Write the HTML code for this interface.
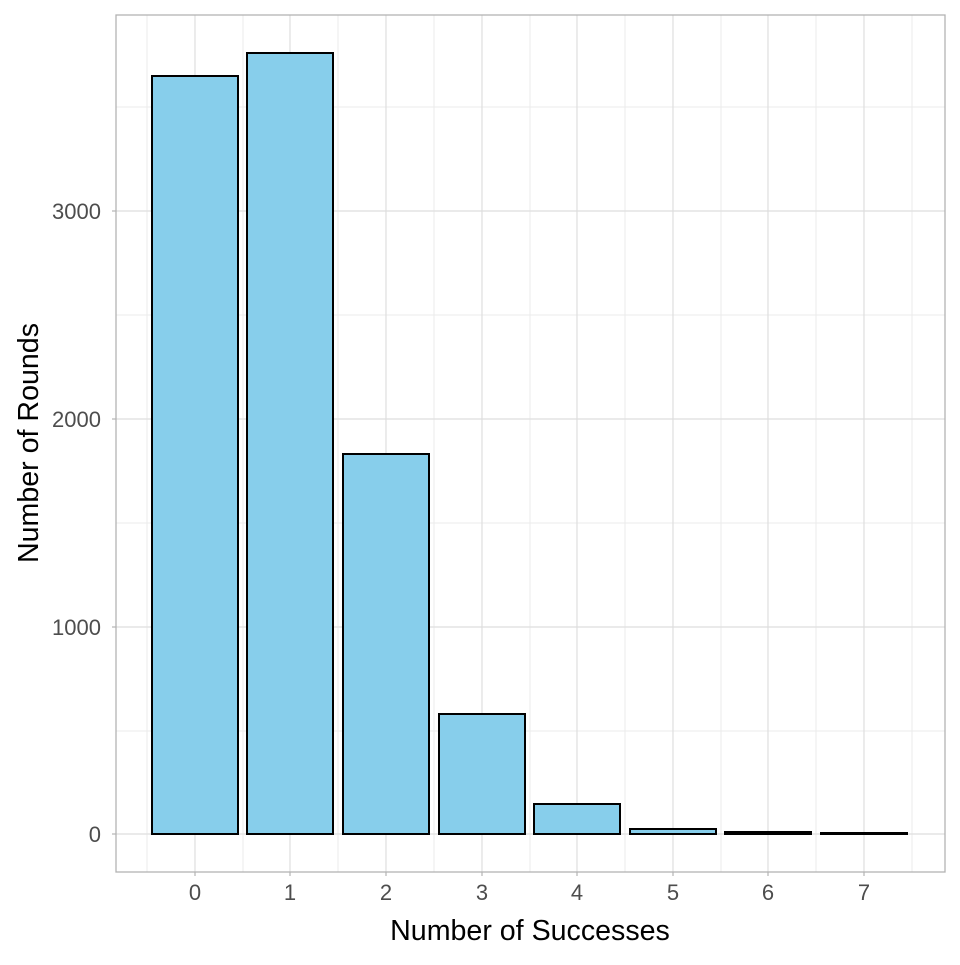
<!DOCTYPE html>
<html><head><style>body{margin:0;background:#fff}</style></head><body>
<svg width="960" height="960" xmlns="http://www.w3.org/2000/svg" font-family="Liberation Sans, sans-serif">
<rect width="960" height="960" fill="#fff"/>
<g stroke="#ebebeb" stroke-width="1">
<line x1="116" x2="945" y1="731" y2="731"/><line x1="116" x2="945" y1="523" y2="523"/>
<line x1="116" x2="945" y1="315" y2="315"/><line x1="116" x2="945" y1="107" y2="107"/>
<line y1="15" y2="872" x1="147" x2="147"/><line y1="15" y2="872" x1="243" x2="243"/>
<line y1="15" y2="872" x1="338" x2="338"/><line y1="15" y2="872" x1="434" x2="434"/>
<line y1="15" y2="872" x1="530" x2="530"/><line y1="15" y2="872" x1="625" x2="625"/>
<line y1="15" y2="872" x1="721" x2="721"/><line y1="15" y2="872" x1="816" x2="816"/>
<line y1="15" y2="872" x1="912" x2="912"/>
</g>
<g stroke="#dedede" stroke-width="1.2">
<line x1="116" x2="945" y1="834" y2="834"/><line x1="116" x2="945" y1="627" y2="627"/>
<line x1="116" x2="945" y1="419" y2="419"/><line x1="116" x2="945" y1="211" y2="211"/>
<line y1="15" y2="872" x1="195" x2="195"/><line y1="15" y2="872" x1="290" x2="290"/>
<line y1="15" y2="872" x1="386" x2="386"/><line y1="15" y2="872" x1="482" x2="482"/>
<line y1="15" y2="872" x1="577" x2="577"/><line y1="15" y2="872" x1="673" x2="673"/>
<line y1="15" y2="872" x1="768" x2="768"/><line y1="15" y2="872" x1="864" x2="864"/>
</g>
<g fill="#87ceeb" stroke="#000" stroke-width="2">
<rect x="152" y="76" width="86" height="758"/>
<rect x="247" y="53" width="86" height="781"/>
<rect x="343" y="454" width="86" height="380"/>
<rect x="439" y="714" width="86" height="120"/>
<rect x="534" y="804" width="86" height="30"/>
<rect x="630" y="829" width="86" height="5"/>
<rect x="725" y="832" width="86" height="2"/>
<rect x="821" y="833" width="86" height="1"/>
</g>
<rect x="116" y="15" width="829" height="857" fill="none" stroke="#b3b3b3" stroke-width="1.3"/>
<g stroke="#b3b3b3" stroke-width="1.2">
<line x1="112" x2="116" y1="834" y2="834"/><line x1="112" x2="116" y1="627" y2="627"/>
<line x1="112" x2="116" y1="419" y2="419"/><line x1="112" x2="116" y1="211" y2="211"/>
<line y1="872" y2="876" x1="195" x2="195"/><line y1="872" y2="876" x1="290" x2="290"/>
<line y1="872" y2="876" x1="386" x2="386"/><line y1="872" y2="876" x1="482" x2="482"/>
<line y1="872" y2="876" x1="577" x2="577"/><line y1="872" y2="876" x1="673" x2="673"/>
<line y1="872" y2="876" x1="768" x2="768"/><line y1="872" y2="876" x1="864" x2="864"/>
</g>
<g fill="#4d4d4d" font-size="22" text-anchor="end">
<text x="101" y="842">0</text><text x="101" y="635">1000</text>
<text x="101" y="427">2000</text><text x="101" y="219">3000</text>
</g>
<g fill="#4d4d4d" font-size="22" text-anchor="middle">
<text x="195" y="900">0</text><text x="290" y="900">1</text><text x="386" y="900">2</text>
<text x="482" y="900">3</text><text x="577" y="900">4</text><text x="673" y="900">5</text>
<text x="768" y="900">6</text><text x="864" y="900">7</text>
</g>
<text x="530" y="940" font-size="28.6" text-anchor="middle" fill="#000">Number of Successes</text>
<text transform="translate(38,443) rotate(-90)" font-size="28.6" text-anchor="middle" fill="#000">Number of Rounds</text>
</svg>
</body></html>
